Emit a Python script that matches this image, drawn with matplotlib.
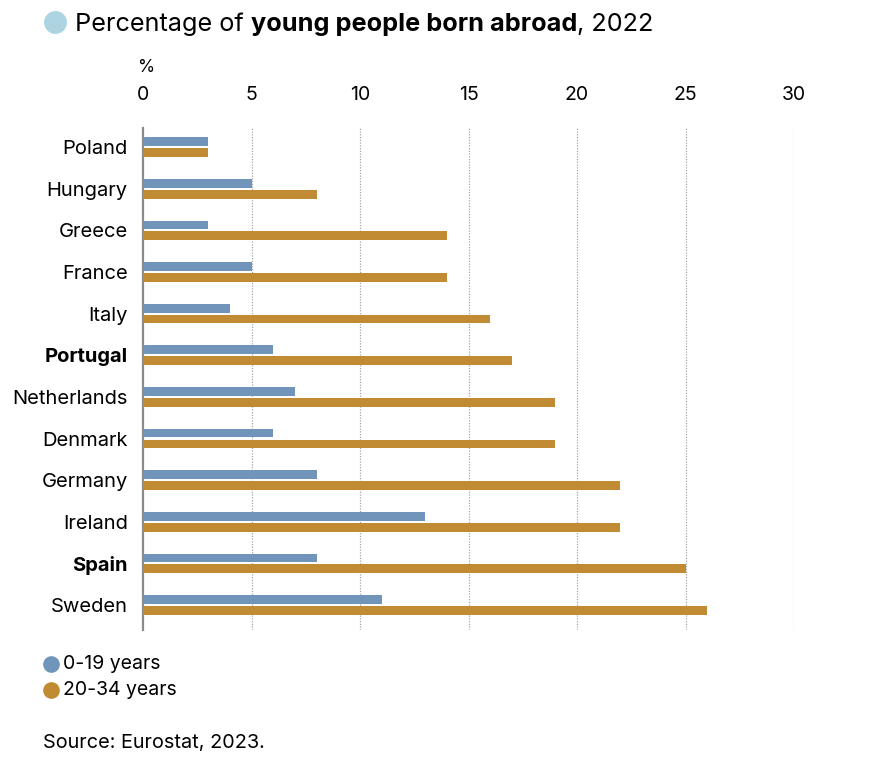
import matplotlib.pyplot as plt

# data
countries = ["Poland", "Hungary", "Greece", "France", "Italy", "Portugal",
             "Netherlands", "Denmark", "Germany", "Ireland", "Spain", "Sweden"]
young_0_19 = [3, 5, 3, 5, 4, 6, 7, 6, 8, 13, 8, 11]
young_20_34 = [3, 8, 14, 14, 16, 17, 19, 19, 22, 22, 25, 26]
bold_countries = ["Portugal", "Spain"]
x_ticks = [0, 5, 10, 15, 20, 25, 30]
series_labels = ["0-19 years", "20-34 years"]

BLUE = "#7194bb"
GOLD = "#c08b33"
FONT = "Inter"

plt.rcParams["font.family"] = FONT

fig = plt.figure(figsize=(8.85, 7.59), dpi=100)
W, H = 885, 759
ax = fig.add_axes([143 / W, 1 - 630 / H, (794 - 143) / W, (630 - 128) / H])

pos = list(range(len(countries)))
bh = 0.21
off = 0.13
ax.barh([p - off for p in pos], young_0_19, height=bh, color=BLUE, zorder=3)
ax.barh([p + off for p in pos], young_20_34, height=bh, color=GOLD, zorder=3)

ax.set_xlim(0, 30)
ax.set_ylim(11.6, -0.46)
ax.set_xticks(x_ticks)
ax.xaxis.tick_top()
ax.tick_params(axis="x", length=0, pad=17, labelsize=14)
ax.set_yticks(pos)
ax.set_yticklabels(countries)
ax.tick_params(axis="y", length=0, pad=11, labelsize=14.5)
for lbl in ax.get_yticklabels():
    if lbl.get_text() in bold_countries:
        lbl.set_fontweight("bold")

for v in x_ticks[1:]:
    ax.axvline(v, color="#a5a5a5", lw=0.9, ls=(0, (1, 1.2)), zorder=1)

for s in ["top", "right", "bottom"]:
    ax.spines[s].set_visible(False)
ax.spines["left"].set_color("#8a8a8a")
ax.spines["left"].set_linewidth(1.6)

fig.text(147 / W, 1 - 68 / H, "%", ha="center", va="center", fontsize=12.5)

# overlay in pixel coordinates for the round markers
ov = fig.add_axes([0, 0, 1, 1], zorder=10)
ov.set_xlim(0, W)
ov.set_ylim(H, 0)
ov.axis("off")
ov.plot([55], [22], "o", ms=16.5, color="#acd5e1", mec="none")
for i, col in enumerate([BLUE, GOLD]):
    ov.plot([51], [664 + i * 26], "o", ms=12, color=col, mec="none")

fig.canvas.draw()
renderer = fig.canvas.get_renderer()
x = 75 / W
y = 1 - 31 / H
for part, weight in [("Percentage of ", "normal"),
                     ("young people born abroad", "bold"),
                     (", 2022", "normal")]:
    t = fig.text(x, y, part, fontsize=18.2, fontweight=weight,
                 ha="left", va="baseline")
    bb = t.get_window_extent(renderer)
    x += bb.width / W

# legend
for i, lab in enumerate(series_labels):
    yy = 664 + i * 26
    fig.text(63 / W, 1 - yy / H, lab, fontsize=14, ha="left", va="center")

fig.text(43 / W, 1 - 743 / H, "Source: Eurostat, 2023.", fontsize=14.3,
         ha="left", va="center")

fig.savefig("out.png", dpi=100)
